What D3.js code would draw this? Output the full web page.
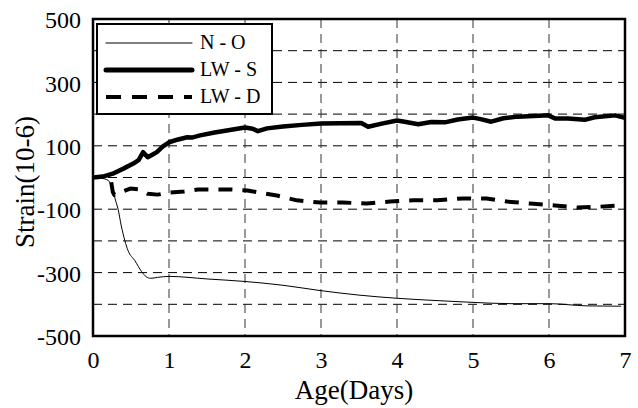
<!DOCTYPE html>
<html>
<head>
<meta charset="utf-8">
<script src="https://cdn.jsdelivr.net/npm/d3@7"></script>
<style>
  html, body { margin: 0; padding: 0; background: #fff; }
</style>
</head>
<body>
<div id="chart"></div>
<script>
// Tick labels
const xTicks = [0, 1, 2, 3, 4, 5, 6, 7];
const yTicks = [500, 300, 100, -100, -300, -500];
const yGrid = [400, 300, 200, 100, 0, -100, -200, -300, -400];

// N - O series (age in days, strain)
const noDays   = [0, 0.1, 0.2, 0.26, 0.3, 0.33, 0.37, 0.42, 0.46, 0.55, 0.64, 0.7, 0.76, 0.85, 1, 1.5, 2, 2.5, 3, 3.5, 4, 4.5, 5, 5.5, 6, 6.5, 6.95];
const noStrain = [0, -2, -9, -40, -75, -100, -150, -200, -230, -262, -297, -313, -318, -315, -312, -320, -328, -340, -357, -371, -381, -388, -394, -398, -398, -405, -406];

// LW - S series
const lwsDays   = [0, 0.13, 0.26, 0.4, 0.53, 0.6, 0.66, 0.72, 0.78, 0.84, 0.92, 1.01, 1.12, 1.24, 1.3, 1.41, 1.6, 1.8, 2, 2.1, 2.17, 2.29, 2.5, 2.75, 3, 3.25, 3.53, 3.62, 3.8, 4, 4.1, 4.28, 4.45, 4.63, 4.8, 5, 5.1, 5.24, 5.4, 5.59, 5.8, 5.99, 6.08, 6.25, 6.47, 6.6, 6.87, 7];
const lwsStrain = [0, 3, 12, 28, 44, 55, 80, 64, 72, 80, 98, 112, 120, 127, 126, 133, 142, 150, 158, 154, 146, 155, 161, 166, 170, 171, 172, 160, 170, 180, 176, 168, 175, 174, 183, 189, 184, 176, 187, 192, 194, 196, 186, 186, 182, 190, 196, 188];

// LW - D series
const lwdDays   = [0.24, 0.26, 0.28, 0.32, 0.38, 0.49, 0.62, 0.72, 0.85, 1, 1.2, 1.38, 1.58, 1.82, 2.03, 2.2, 2.42, 2.68, 2.99, 3.29, 3.6, 3.91, 4.21, 4.53, 4.87, 5.18, 5.45, 5.75, 6.08, 6.37, 6.67, 6.93, 7];
const lwdStrain = [-15, -45, -55, -52, -45, -35, -38, -51, -54, -48, -44, -38, -38, -38, -41, -48, -57, -72, -79, -79, -82, -76, -72, -72, -66, -66, -76, -82, -88, -95, -92, -88, -92];

const series = [
  { name: "N - O",  days: noDays,  strain: noStrain,  width: 1,   dash: null,    curve: d3.curveMonotoneX },
  { name: "LW - S", days: lwsDays, strain: lwsStrain, width: 4.5, dash: null,   curve: d3.curveLinear },
  { name: "LW - D", days: lwdDays, strain: lwdStrain, width: 4,   dash: "14,10", curve: d3.curveLinear }
];

const FONT = "Liberation Serif";

const svgWidth = 638, svgHeight = 408;
const margin = { top: 19, right: 13, bottom: 72, left: 93 };
const width = svgWidth - margin.left - margin.right;
const height = svgHeight - margin.top - margin.bottom;

const svg = d3.select("#chart").append("svg")
  .attr("width", svgWidth)
  .attr("height", svgHeight);

const chart = svg.append("g")
  .attr("transform", `translate(${margin.left},${margin.top})`);

const x = d3.scaleLinear().domain([0, 7]).range([0, width]);
const y = d3.scaleLinear().domain([-500, 500]).range([height, 0]);

// Grid lines
chart.append("g").selectAll("line")
  .data(yGrid)
  .enter().append("line")
  .attr("x1", 0).attr("x2", width)
  .attr("y1", d => y(d)).attr("y2", d => y(d))
  .attr("stroke", "#000").attr("stroke-width", 1)
  .attr("stroke-dasharray", "9,6");

chart.append("g").selectAll("line")
  .data(xTicks.slice(1, -1))
  .enter().append("line")
  .attr("x1", d => x(d)).attr("x2", d => x(d))
  .attr("y1", 0).attr("y2", height)
  .attr("stroke", "#333").attr("stroke-width", 1)
  .attr("stroke-dasharray", "9,6");

// Frame
chart.append("rect")
  .attr("x", 0).attr("y", 0)
  .attr("width", width).attr("height", height)
  .attr("fill", "none")
  .attr("stroke", "#000").attr("stroke-width", 2.5);

// Axes (labels only)
const xAxis = chart.append("g")
  .attr("transform", `translate(0,${height})`)
  .call(d3.axisBottom(x).tickValues(xTicks).tickSize(0).tickPadding(0).tickFormat(d => String(d)));
xAxis.select(".domain").remove();
xAxis.selectAll("text")
  .attr("y", 32).attr("dy", null)
  .attr("fill", "#000")
  .style("font-family", FONT)
  .style("font-size", "24px");

const yAxis = chart.append("g")
  .call(d3.axisLeft(y).tickValues(yTicks).tickSize(0).tickPadding(12).tickFormat(d => String(d)));
yAxis.select(".domain").remove();
yAxis.selectAll("text")
  .attr("dy", "0.36em")
  .attr("fill", "#000")
  .style("font-family", FONT)
  .style("font-size", "24px");

// Lines
series.forEach(s => {
  const pts = s.days.map((d, i) => [d, s.strain[i]]);
  const line = d3.line()
    .x(d => x(d[0]))
    .y(d => y(d[1]))
    .curve(s.curve);
  chart.append("path")
    .datum(pts)
    .attr("d", line)
    .attr("fill", "none")
    .attr("stroke", "#000")
    .attr("stroke-width", s.width)
    .attr("stroke-linejoin", "round")
    .attr("stroke-dasharray", s.dash);
});

// Legend
const legend = svg.append("g").attr("transform", "translate(97,24)");
legend.append("rect")
  .attr("width", 175).attr("height", 90)
  .attr("fill", "#fff")
  .attr("stroke", "#000").attr("stroke-width", 2);

series.forEach((s, i) => {
  const ly = 19 + i * 27;
  legend.append("line")
    .attr("x1", 9).attr("x2", 95)
    .attr("y1", ly).attr("y2", ly)
    .attr("stroke", "#000")
    .attr("stroke-width", s.width === 4.5 ? 5 : s.width)
    .attr("stroke-linecap", s.dash ? "butt" : "round")
    .attr("stroke-dasharray", s.dash ? "15,11" : null);
  legend.append("text")
    .attr("x", 103).attr("y", ly + 6)
    .attr("fill", "#000")
    .style("font-family", FONT)
    .style("font-size", "20px")
    .text(s.name);
});

// Axis titles
svg.append("text")
  .attr("x", 354).attr("y", 399)
  .attr("text-anchor", "middle")
  .style("font-family", FONT)
  .style("font-size", "27px")
  .text("Age(Days)");

svg.append("text")
  .attr("transform", "translate(34,182) rotate(-90)")
  .attr("text-anchor", "middle")
  .style("font-family", FONT)
  .style("font-size", "27px")
  .text("Strain(10-6)");
</script>
</body>
</html>
